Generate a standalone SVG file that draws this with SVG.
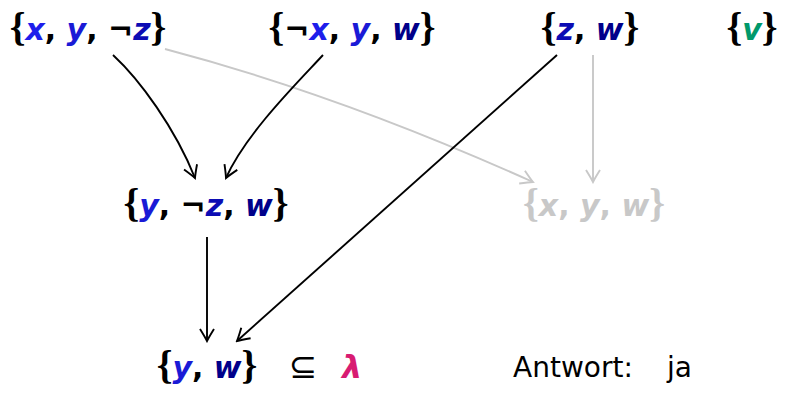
<svg xmlns="http://www.w3.org/2000/svg" width="786" height="393" viewBox="0 0 786 393">
<defs>
<style>
.cl{font-family:"DejaVu Sans",sans-serif;font-size:30px;font-weight:bold;font-style:oblique;text-anchor:middle}
.br{font-family:"Liberation Serif",serif;font-style:normal;font-weight:bold;font-size:40px}
.pn{font-style:normal;font-weight:bold}
.vx{fill:#1e1eeb}.vy{fill:#1a1ad6}.vz{fill:#0c0cb4}.vw{fill:#00008a}.vv{fill:#00996b}
.gray, .gray tspan{fill:#c8c8c8}
.e{fill:none;stroke:#000;stroke-width:1.9;marker-end:url(#ah)}
.eg{fill:none;stroke:#c8c8c8;stroke-width:1.9;marker-end:url(#ahg)}
.t{font-family:"DejaVu Sans",sans-serif;font-size:28px;fill:#000}
</style>
<marker id="ah" viewBox="-14 -8 16 16" refX="0" refY="0" markerWidth="16" markerHeight="16" markerUnits="userSpaceOnUse" orient="auto">
<path d="M-12,-7 Q-4,-2 0,0 Q-4,2 -12,7" fill="none" stroke="#000" stroke-width="1.9"/>
</marker>
<marker id="ahg" viewBox="-14 -8 16 16" refX="0" refY="0" markerWidth="16" markerHeight="16" markerUnits="userSpaceOnUse" orient="auto">
<path d="M-12,-7 Q-4,-2 0,0 Q-4,2 -12,7" fill="none" stroke="#c8c8c8" stroke-width="1.9"/>
</marker>
</defs>
<g id="connectors">
<path class="eg" d="M165,49 Q340,95 533,182"/>
<path class="eg" d="M593,55 L593,182"/>
<path class="e" d="M113,55 C140,80 175,128 195,178"/>
<path class="e" d="M323,55 C300,80 246,133 226,178"/>
<path class="e" d="M557,55 L237,341"/>
<path class="e" d="M207,237 L207,341"/>
</g>
<g id="n1"><text class="cl" x="88" y="40"><tspan class="br">{</tspan><tspan class="vx">x</tspan><tspan class="pn">, </tspan><tspan class="vy">y</tspan><tspan class="pn">, ¬</tspan><tspan class="vz">z</tspan><tspan class="br">}</tspan></text></g>
<g id="n2"><text class="cl" x="352" y="40"><tspan class="br">{</tspan><tspan class="pn">¬</tspan><tspan class="vx">x</tspan><tspan class="pn">, </tspan><tspan class="vy">y</tspan><tspan class="pn">, </tspan><tspan class="vw">w</tspan><tspan class="br">}</tspan></text></g>
<g id="n3"><text class="cl" x="590" y="40"><tspan class="br">{</tspan><tspan class="vz">z</tspan><tspan class="pn">, </tspan><tspan class="vw">w</tspan><tspan class="br">}</tspan></text></g>
<g id="n4"><text class="cl" x="752" y="40"><tspan class="br">{</tspan><tspan class="vv">v</tspan><tspan class="br">}</tspan></text></g>
<g id="n5"><text class="cl" x="206" y="216"><tspan class="br">{</tspan><tspan class="vy">y</tspan><tspan class="pn">, ¬</tspan><tspan class="vz">z</tspan><tspan class="pn">, </tspan><tspan class="vw">w</tspan><tspan class="br">}</tspan></text></g>
<g id="n6"><text class="cl gray" x="594" y="216"><tspan class="br">{</tspan><tspan>x</tspan><tspan class="pn">, </tspan><tspan>y</tspan><tspan class="pn">, </tspan><tspan>w</tspan><tspan class="br">}</tspan></text></g>
<g id="n7"><text class="cl" x="207" y="378"><tspan class="br">{</tspan><tspan class="vy">y</tspan><tspan class="pn">, </tspan><tspan class="vw">w</tspan><tspan class="br">}</tspan></text></g>
<g id="subset">
<text x="303" y="378" font-family="DejaVu Sans, sans-serif" font-size="34" text-anchor="middle" fill="#000">⊆</text>
<text x="352" y="378" font-family="DejaVu Sans, sans-serif" font-size="32" font-weight="bold" font-style="oblique" text-anchor="middle" fill="#d81b72">λ</text>
</g>
<g id="answer">
<text class="t" x="513" y="377">Antwort:</text>
<text class="t" x="692" y="377" text-anchor="end">ja</text>
</g>
</svg>
